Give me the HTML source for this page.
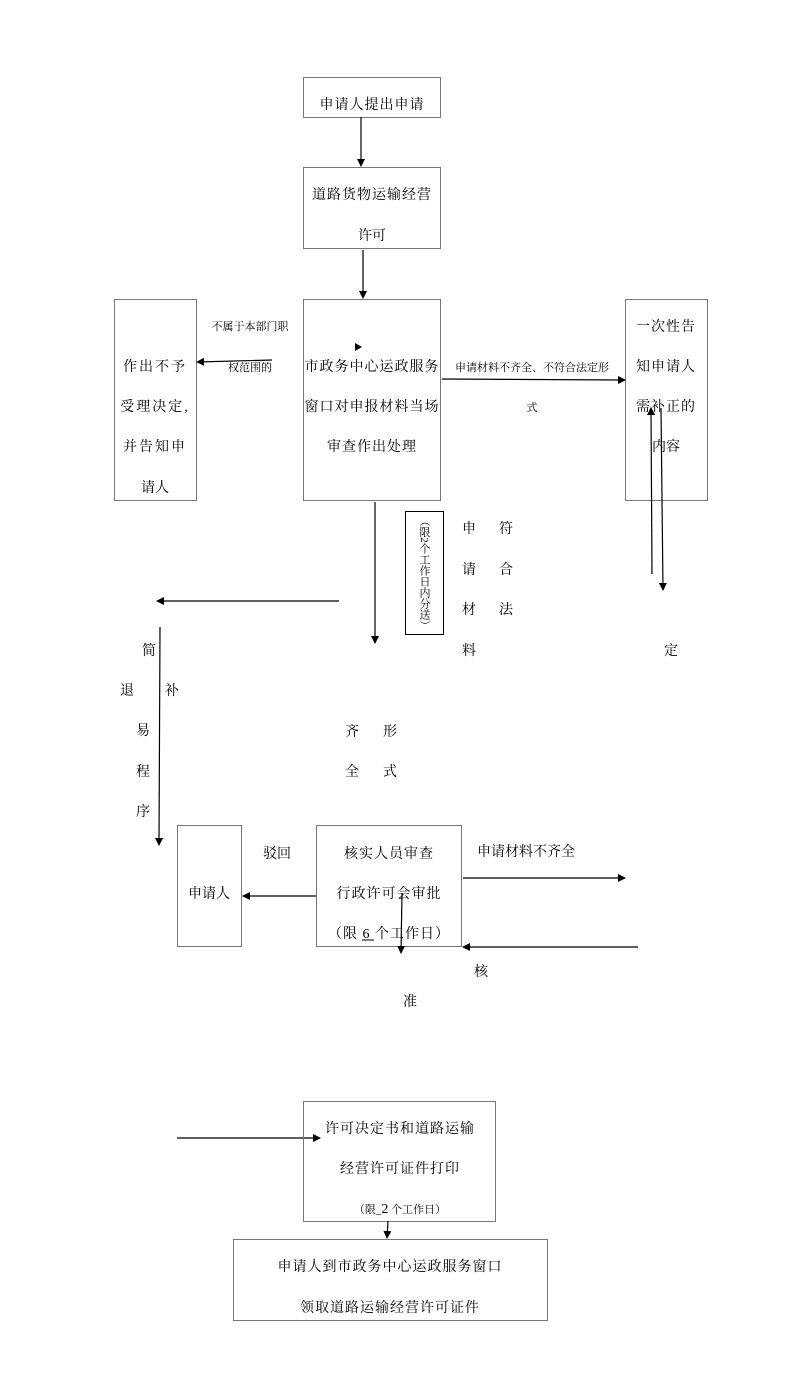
<!DOCTYPE html>
<html><head><meta charset="utf-8"><style>
html,body{margin:0;padding:0;background:#fff;}
svg{display:block;}
text{font-family:"Liberation Serif","Noto Serif CJK SC",serif;fill:#000;font-size:14px;text-anchor:middle;}
.s{font-size:11px;}
.b{fill:none;stroke:#777;stroke-width:1;}
.l{stroke:#000;stroke-width:1.2;fill:none;}
</style></head><body>
<svg width="800" height="1396" viewBox="0 0 800 1396" xmlns="http://www.w3.org/2000/svg">
<defs><marker id="a" markerWidth="8" markerHeight="8" refX="7" refY="4" orient="auto" markerUnits="userSpaceOnUse"><path d="M0,0 L8,4 L0,8 z" fill="#000"/></marker></defs>
<rect class="b" x="303.5" y="77.5" width="137" height="40"/>
<text x="372" y="109" letter-spacing="1">申请人提出申请</text>
<rect class="b" x="303.5" y="167.5" width="137" height="81"/>
<text x="372" y="199" letter-spacing="1">道路货物运输经营</text>
<text x="372" y="240">许可</text>
<rect class="b" x="114.5" y="299.5" width="82" height="201"/>
<text x="155" y="371" letter-spacing="2">作出不予</text>
<text x="155" y="411" letter-spacing="2">受理决定,</text>
<text x="155" y="451" letter-spacing="2">并告知申</text>
<text x="155" y="492">请人</text>
<rect class="b" x="303.5" y="299.5" width="137" height="201"/>
<path d="M355,343 L362,347 L355,351 z" fill="#000"/>
<text x="372" y="371" letter-spacing="1">市政务中心运政服务</text>
<text x="372" y="411" letter-spacing="1">窗口对申报材料当场</text>
<text x="372" y="451" letter-spacing="1">审查作出处理</text>
<rect class="b" x="625.5" y="299.5" width="82" height="201"/>
<text x="666" y="331" letter-spacing="1">一次性告</text>
<text x="666" y="371" letter-spacing="1">知申请人</text>
<text x="666" y="411" letter-spacing="1">需补正的</text>
<text x="666" y="451">内容</text>
<rect x="405.5" y="511.5" width="38" height="123" fill="none" stroke="#000" stroke-width="1"/>
<text class="s" x="424" y="573" style="writing-mode:tb;">（限2个工作日内分送）</text>
<line class="l" x1="361" y1="117" x2="361" y2="166" marker-end="url(#a)"/>
<line class="l" x1="363" y1="250" x2="363" y2="298" marker-end="url(#a)"/>
<line class="l" x1="272" y1="360" x2="197" y2="362" marker-end="url(#a)"/>
<text class="s" x="250" y="330">不属于本部门职</text>
<text class="s" x="250" y="371">权范围的</text>
<line class="l" x1="442" y1="379" x2="625" y2="380" marker-end="url(#a)"/>
<text class="s" x="532" y="371">申请材料不齐全、不符合法定形</text>
<text class="s" x="532" y="411">式</text>
<line class="l" x1="652" y1="574" x2="651" y2="408" marker-end="url(#a)"/>
<line class="l" x1="661" y1="408" x2="663" y2="590" marker-end="url(#a)"/>
<line class="l" x1="375" y1="502" x2="375" y2="643" marker-end="url(#a)"/>
<text x="469" y="533">申</text><text x="469" y="574">请</text><text x="469" y="614">材</text><text x="469" y="655">料</text>
<text x="506" y="533">符</text><text x="506" y="574">合</text><text x="506" y="614">法</text>
<text x="671" y="655">定</text>
<line class="l" x1="339" y1="601" x2="157" y2="601" marker-end="url(#a)"/>
<line class="l" x1="160" y1="627" x2="159" y2="845" marker-end="url(#a)"/>
<text x="149" y="655">简</text><text x="127" y="695">退</text><text x="172" y="695">补</text>
<text x="143" y="735">易</text><text x="143" y="776">程</text><text x="143" y="816">序</text>
<text x="352" y="736">齐</text><text x="390" y="736">形</text>
<text x="352" y="776">全</text><text x="390" y="776">式</text>
<rect class="b" x="177.5" y="825.5" width="64" height="121"/>
<text x="209" y="898">申请人</text>
<rect class="b" x="316.5" y="825.5" width="145" height="121"/>
<text x="389" y="858" letter-spacing="1">核实人员审查</text>
<text x="389" y="898" letter-spacing="1">行政许可会审批</text>
<text x="389" y="938" letter-spacing="1">（限  6 个工作日）</text>
<line x1="362" y1="940" x2="374" y2="940" stroke="#000" stroke-width="1"/>
<text x="277" y="858">驳回</text>
<line class="l" x1="316" y1="896" x2="243" y2="896" marker-end="url(#a)"/>
<text x="526" y="856">申请材料不齐全</text>
<line class="l" x1="463" y1="878" x2="625" y2="878" marker-end="url(#a)"/>
<line class="l" x1="638" y1="947" x2="463" y2="947" marker-end="url(#a)"/>
<text x="481" y="976">核</text>
<text x="410" y="1006">准</text>
<line class="l" x1="402" y1="893" x2="401" y2="953" marker-end="url(#a)"/>
<line class="l" x1="177" y1="1138" x2="320" y2="1138" marker-end="url(#a)"/>
<rect class="b" x="303.5" y="1101.5" width="192" height="120"/>
<text x="400" y="1133" letter-spacing="1">许可决定书和道路运输</text>
<text x="400" y="1173" letter-spacing="1">经营许可证件打印</text>
<text class="s" x="400" y="1213">（限_<tspan font-size="14">2</tspan> 个工作日）</text>
<line class="l" x1="388" y1="1221" x2="387" y2="1238" marker-end="url(#a)"/>
<rect class="b" x="233.5" y="1239.5" width="314" height="81"/>
<text x="390" y="1271" letter-spacing="1">申请人到市政务中心运政服务窗口</text>
<text x="390" y="1312" letter-spacing="1">领取道路运输经营许可证件</text>
</svg>
</body></html>
